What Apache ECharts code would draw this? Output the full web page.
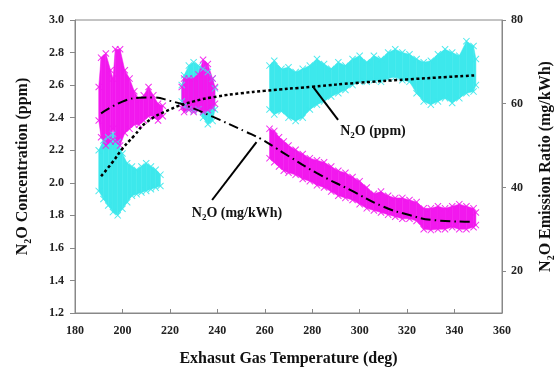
<!DOCTYPE html>
<html>
<head>
<meta charset="UTF-8">
<script src="https://cdn.jsdelivr.net/npm/echarts@6/dist/echarts.min.js"></script>
<style>
html, body { margin: 0; padding: 0; background: #fff; }
#main { width: 559px; height: 368px; }
</style>
</head>
<body>
<div id="main"></div>
<script>
// x ticks
var xTicks = [180, 200, 220, 240, 260, 280, 300, 320, 340, 360];
var rightTicks = [20, 40, 60, 80];

// N2O (ppm) point clouds, left axis: [temp, low edge, high edge]
var ppmCloud1 = [
  [190, 1.95, 2.20], [192, 1.90, 2.26], [194, 1.86, 2.28], [196, 1.82, 2.30],
  [198, 1.80, 2.25], [200, 1.84, 2.18], [202, 1.88, 2.12], [204, 1.92, 2.10],
  [206, 1.93, 2.08], [208, 1.94, 2.10], [210, 1.95, 2.12], [212, 1.96, 2.10],
  [214, 1.97, 2.08], [216, 1.98, 2.05]
];
var ppmCloud2 = [
  [225, 2.50, 2.60], [226, 2.47, 2.66], [228, 2.45, 2.72], [230, 2.44, 2.74],
  [232, 2.45, 2.72], [234, 2.40, 2.70], [236, 2.36, 2.68], [238, 2.38, 2.64],
  [239, 2.45, 2.58]
];
var ppmCloud3 = [
  [262, 2.45, 2.72], [264, 2.42, 2.75], [267, 2.44, 2.70], [270, 2.40, 2.71],
  [273, 2.38, 2.68], [276, 2.40, 2.70], [279, 2.45, 2.72], [282, 2.48, 2.76],
  [285, 2.50, 2.73], [288, 2.53, 2.70], [291, 2.55, 2.74], [294, 2.57, 2.72],
  [297, 2.60, 2.76], [300, 2.62, 2.78], [303, 2.62, 2.74], [306, 2.63, 2.78],
  [309, 2.62, 2.76], [312, 2.64, 2.80], [315, 2.65, 2.82], [318, 2.63, 2.80],
  [321, 2.62, 2.79], [324, 2.55, 2.76], [327, 2.50, 2.74], [330, 2.48, 2.75],
  [333, 2.50, 2.79], [336, 2.52, 2.82], [339, 2.49, 2.80], [342, 2.52, 2.78],
  [345, 2.55, 2.87], [348, 2.56, 2.84], [349, 2.60, 2.76]
];

// N2O (mg/kWh) point clouds, right axis
var mgCloud1 = [
  [190, 56, 64], [191, 52, 71], [193, 50, 72], [195, 51, 68], [196, 54, 66],
  [197, 51, 73], [199, 50, 73], [201, 53, 68], [203, 54, 66], [205, 55, 63],
  [207, 55, 61], [209, 56, 62], [211, 57, 64], [213, 57, 62], [215, 56, 60],
  [217, 57, 59.5]
];
var mgCloud2 = [
  [225, 59, 64], [226, 58, 66], [228, 58.5, 66], [230, 58, 66], [232, 58.5, 67],
  [234, 58, 70.5], [236, 58.5, 69.5], [238, 59, 66], [239, 60, 64]
];
var mgCloud3 = [
  [262, 47, 54], [264, 46, 53.5], [266, 45, 52], [268, 44, 51], [270, 43.5, 50],
  [273, 43, 49], [276, 42, 48], [279, 41.5, 47], [282, 40.5, 46.5], [285, 40, 46],
  [288, 39, 45], [291, 38, 44], [294, 37.5, 43.5], [297, 37, 42.5], [300, 36, 41.5],
  [303, 35, 40], [306, 34.5, 38.5], [309, 34, 39], [312, 33.5, 38], [315, 33, 37.5],
  [318, 32.5, 37.5], [321, 32.5, 37], [324, 32, 36.5], [327, 30, 35], [330, 29.8, 35],
  [333, 30, 35.5], [336, 30, 35], [339, 30.5, 35.5], [342, 30, 36], [345, 30, 35.5],
  [348, 30.5, 35], [349, 31, 34]
];

// fitted trend lines
var ppmFit = [
  [191, 2.04], [196, 2.13], [200, 2.21], [205, 2.29], [210, 2.37], [220, 2.45],
  [230, 2.50], [240, 2.53], [250, 2.55], [260, 2.565], [280, 2.59], [300, 2.615],
  [320, 2.635], [349, 2.66]
];
var mgFit = [
  [191, 57.7], [200, 60.5], [207, 61.4], [213, 61.5], [220, 60.7], [228, 59.3],
  [238, 56.9], [252, 53.3], [258, 51.7], [265, 49.3], [268, 48.2], [282, 43.4],
  [296, 39.4], [310, 35.4], [321, 33.4], [331, 32.2], [347, 31.8]
];

var CYAN = '#3DE8EC';
var MAGENTA = '#F218EE';
var FONT = '"Liberation Serif", "Times New Roman", serif';
var crossPath = 'path://M0 1L1 0L5 4L9 0L10 1L6 5L10 9L9 10L5 6L1 10L0 9L4 5Z';

function bandSeries(rows, yIdx, color) {
  return {
    type: 'custom',
    yAxisIndex: yIdx,
    data: rows,
    encode: { x: 0, y: [1, 2] },
    silent: true,
    renderItem: function (params, api) {
      var i = params.dataIndex;
      if (i >= rows.length - 1) return;
      var a = rows[i], b = rows[i + 1];
      return {
        type: 'polygon',
        shape: { points: [
          api.coord([a[0], a[1]]), api.coord([a[0], a[2]]),
          api.coord([b[0], b[2]]), api.coord([b[0], b[1]])
        ] },
        style: { fill: color, stroke: color, lineWidth: 0.5 }
      };
    }
  };
}

function edgeSeries(rows, yIdx, color) {
  var pts = [];
  rows.forEach(function (r) { pts.push([r[0], r[1]]); pts.push([r[0], r[2]]); });
  return {
    type: 'scatter', yAxisIndex: yIdx, data: pts, symbol: crossPath,
    symbolSize: 7, silent: true, itemStyle: { color: color, opacity: 0.9 }
  };
}

var richN2O = {
  b: { fontFamily: FONT, fontWeight: 'bold', fontSize: 16, color: '#111' },
  s: { fontFamily: FONT, fontWeight: 'bold', fontSize: 10, color: '#111', verticalAlign: 'bottom', lineHeight: 12, padding: [0, 0, -2, 0] }
};
var richLbl = {
  b: { fontFamily: FONT, fontWeight: 'bold', fontSize: 14, color: '#111' },
  s: { fontFamily: FONT, fontWeight: 'bold', fontSize: 9, color: '#111', verticalAlign: 'bottom', lineHeight: 10, padding: [0, 0, -2, 0] }
};

var chart = echarts.init(document.getElementById('main'));
chart.setOption({
  animation: false,
  grid: { left: 75, right: 57, top: 20, bottom: 55, show: true, borderColor: '#888', borderWidth: 1, outerBoundsMode: 'none' },
  xAxis: {
    type: 'value', min: 180, max: 360, interval: 20,
    name: 'Exhasut Gas Temperature (deg)', nameLocation: 'middle', nameGap: 38,
    nameTextStyle: { fontFamily: FONT, fontWeight: 'bold', fontSize: 16, color: '#111' },
    axisLine: { lineStyle: { color: '#888' } },
    axisTick: { inside: true, length: 4, lineStyle: { color: '#888' } },
    axisLabel: { fontFamily: FONT, fontWeight: 'bold', fontSize: 12, color: '#222', margin: 12,
      customValues: xTicks },
    splitLine: { show: false }
  },
  yAxis: [{
    type: 'value', min: 1.2, max: 3.0, interval: 0.2, position: 'left',
    name: '{b|N}{s|2}{b|O Concentration (ppm)}', nameLocation: 'middle', nameGap: 44,
    nameTextStyle: { rich: richN2O },
    axisLine: { show: true, lineStyle: { color: '#888' } },
    axisTick: { show: true, length: 5, lineStyle: { color: '#888' } },
    axisLabel: { fontFamily: FONT, fontWeight: 'bold', fontSize: 12, color: '#222', margin: 11,
      formatter: function (v) { return v.toFixed(1); } },
    splitLine: { show: false }
  }, {
    type: 'value', min: 10, max: 80, position: 'right',
    name: '{b|N}{s|2}{b|O Emission Ratio (mg/kWh)}', nameLocation: 'middle', nameGap: 36,
    nameRotate: 90,
    nameTextStyle: { rich: richN2O },
    axisLine: { show: true, lineStyle: { color: '#888' } },
    axisTick: { show: true, length: 4, customValues: rightTicks, lineStyle: { color: '#888' } },
    axisLabel: { fontFamily: FONT, fontWeight: 'bold', fontSize: 12, color: '#222', margin: 9,
      customValues: rightTicks },
    splitLine: { show: false }
  }],
  series: [
    bandSeries(ppmCloud1, 0, CYAN), bandSeries(ppmCloud2, 0, CYAN), bandSeries(ppmCloud3, 0, CYAN),
    edgeSeries(ppmCloud1, 0, CYAN), edgeSeries(ppmCloud2, 0, CYAN), edgeSeries(ppmCloud3, 0, CYAN),
    bandSeries(mgCloud1, 1, MAGENTA), bandSeries(mgCloud2, 1, MAGENTA), bandSeries(mgCloud3, 1, MAGENTA),
    edgeSeries(mgCloud1, 1, MAGENTA), edgeSeries(mgCloud2, 1, MAGENTA), edgeSeries(mgCloud3, 1, MAGENTA),
    {
      type: 'line', yAxisIndex: 0, data: ppmFit, smooth: true, symbol: 'none', silent: true,
      lineStyle: { color: '#000', width: 2.5, type: [3, 2.5] },
      markLine: {
        silent: true, symbol: ['none', 'arrow'], symbolSize: [0, 12],
        lineStyle: { color: '#000', width: 2, type: 'solid' }, label: { show: false },
        data: [[{ coord: [290.9, 2.386] }, { coord: [280.6, 2.585] }]]
      },
      markPoint: {
        symbol: 'circle', symbolSize: 0, silent: true,
        label: { show: true, position: 'inside', formatter: '{b|N}{s|2}{b|O (ppm)}', rich: richLbl },
        data: [{ coord: [305.6, 2.318] }]
      }
    },
    {
      type: 'line', yAxisIndex: 1, data: mgFit, smooth: true, symbol: 'none', silent: true,
      lineStyle: { color: '#000', width: 2, type: [10, 4, 1.5, 4] },
      markLine: {
        silent: true, symbol: ['none', 'arrow'], symbolSize: [0, 12],
        lineStyle: { color: '#000', width: 2, type: 'solid' }, label: { show: false },
        data: [[{ coord: [237.8, 37.0] }, { coord: [256.5, 50.8] }]]
      },
      markPoint: {
        symbol: 'circle', symbolSize: 0, silent: true,
        label: { show: true, position: 'inside', formatter: '{b|N}{s|2}{b|O (mg/kWh)}', rich: richLbl },
        data: [{ coord: [248.3, 33.9] }]
      }
    }
  ]
});
</script>
</body>
</html>
